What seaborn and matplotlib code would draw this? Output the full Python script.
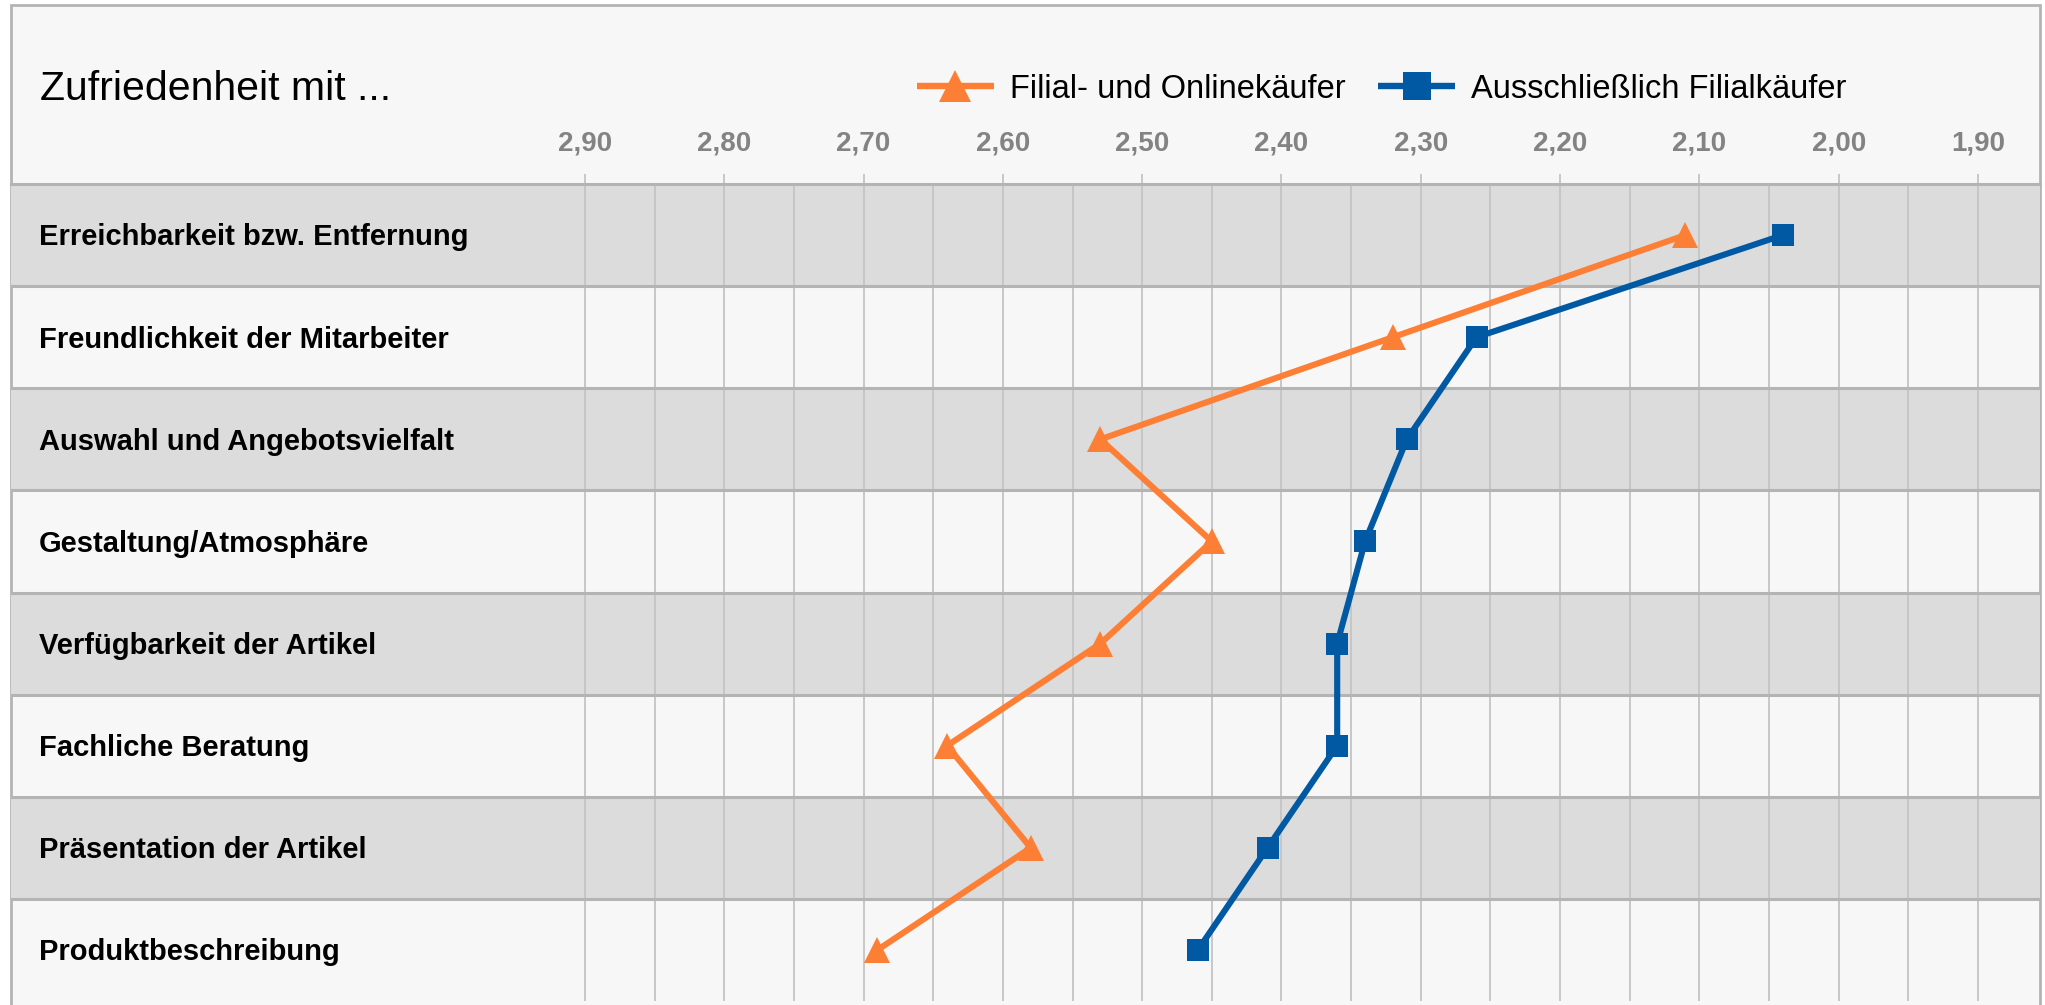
import numpy as np
import pandas as pd
import matplotlib
matplotlib.use('Agg')
import matplotlib.pyplot as plt
from matplotlib.patches import Rectangle
import seaborn as sns

# Daten (Kategorien von oben nach unten)
kategorien = ['Erreichbarkeit bzw. Entfernung', 'Freundlichkeit der Mitarbeiter',
              'Auswahl und Angebotsvielfalt', 'Gestaltung/Atmosphäre',
              'Verfügbarkeit der Artikel', 'Fachliche Beratung',
              'Präsentation der Artikel', 'Produktbeschreibung']
filial_online = [2.11, 2.32, 2.53, 2.45, 2.53, 2.64, 2.58, 2.69]
nur_filial = [2.04, 2.26, 2.31, 2.34, 2.36, 2.36, 2.41, 2.46]
gruppen = ['Filial- und Onlinekäufer', 'Ausschließlich Filialkäufer']
farben = ['#FD7F35', '#0059A2']
titel = 'Zufriedenheit mit ...'

x_ticks = [2.90, 2.80, 2.70, 2.60, 2.50, 2.40, 2.30, 2.20, 2.10, 2.00, 1.90]
x_ticklabels = ['2,90', '2,80', '2,70', '2,60', '2,50', '2,40', '2,30', '2,20', '2,10', '2,00', '1,90']
x_minor = [2.85, 2.75, 2.65, 2.55, 2.45, 2.35, 2.25, 2.15, 2.05, 1.95]

# Long-Format fuer seaborn
pos = list(range(len(kategorien)))
df = pd.DataFrame({
    'pos': pos + pos,
    'wert': filial_online + nur_filial,
    'gruppe': [gruppen[0]] * len(pos) + [gruppen[1]] * len(pos),
})

sns.set_theme(style='white')
plt.rcParams['font.family'] = ['Liberation Sans', 'DejaVu Sans']

W, H = 2045, 1005
fig = plt.figure(figsize=(W / 100, H / 100), dpi=100, facecolor='white')

# Rahmen + Hintergrund (hinter den Axes)
rahmen = Rectangle((11 / W, -0.02), (2040 - 11) / W, (H - 5) / H + 0.02,
                   transform=fig.transFigure, facecolor='#F7F7F7',
                   edgecolor='#B4B4B4', lw=2, zorder=-1)
fig.patches.append(rahmen)

ax = fig.add_axes([11 / W, 4 / H, (2040 - 11) / W, (1001 - 184) / H])
ax.set_facecolor('none')

# Zeilenbaender
for i in pos:
    if i % 2 == 0:
        ax.axhspan(i - 0.5, i + 0.5, color='#DCDCDC', lw=0, zorder=0)
for i in pos[:-1]:
    ax.axhline(i + 0.5, color='#B4B4B4', lw=2.2, zorder=0.7)

sns.lineplot(data=df, x='wert', y='pos', hue='gruppe', style='gruppe',
             hue_order=gruppen, style_order=gruppen, palette=farben,
             markers=['^', 's'], dashes=False, orient='y', sort=True,
             linewidth=4.4, markersize=16, markeredgewidth=0, ax=ax, zorder=3)
# Dreiecke etwas groesser wie im Original
for ln in ax.get_lines():
    if ln.get_marker() == '^':
        ln.set_markersize(19)

ax.set_xlim(3.312, 1.8555)
ax.set_ylim(len(kategorien) - 0.5, -0.5)
ax.set_yticks([])
ax.set_xlabel('')
ax.set_ylabel('')
ax.set_xticks(x_ticks)
ax.set_xticklabels(x_ticklabels, fontweight='bold')
ax.set_xticks(x_minor, minor=True)
ax.xaxis.tick_top()
ax.tick_params(axis='x', which='major', top=True, bottom=False, labeltop=True,
               labelbottom=False, length=7.2, width=1.3, color='#C4C4C4',
               pad=12.5, labelsize=20, labelcolor='#838383')
ax.tick_params(axis='x', which='minor', length=0)
ax.grid(axis='x', which='both', color='#C4C4C4', lw=1.3)
ax.set_axisbelow(True)

for s in ['left', 'right', 'bottom']:
    ax.spines[s].set_visible(False)
ax.spines['top'].set_color('#B4B4B4')
ax.spines['top'].set_linewidth(2.2)

# Kategorie-Beschriftungen
for i, k in zip(pos, kategorien):
    ax.text((39 - 11) / (2040 - 11), i + 0.101, k, transform=ax.get_yaxis_transform(),
            ha='left', va='baseline', fontsize=21, fontweight='bold', color='black')

# Titel
fig.text(40 / W, 1 - 100 / H, titel, ha='left', va='baseline', fontsize=29.5, color='black')

# Legende
handles, labels = ax.get_legend_handles_labels()
ax.get_legend().remove()
for h in handles:
    h.set_markersize(23 if h.get_marker() == '^' else 20.5)
    h.set_markeredgewidth(0)
    h.set_linewidth(4.6)
    h.set_solid_capstyle('butt')
fig.legend(handles, labels, loc='center left', bbox_to_anchor=(917 / W, 1 - 89 / H),
           bbox_transform=fig.transFigure, frameon=False, fontsize=23.5, ncol=2,
           handlelength=2.35, handletextpad=0.5, columnspacing=1.0,
           borderpad=0, borderaxespad=0, labelcolor='black')

fig.savefig('out.png', dpi=100, facecolor='white')
